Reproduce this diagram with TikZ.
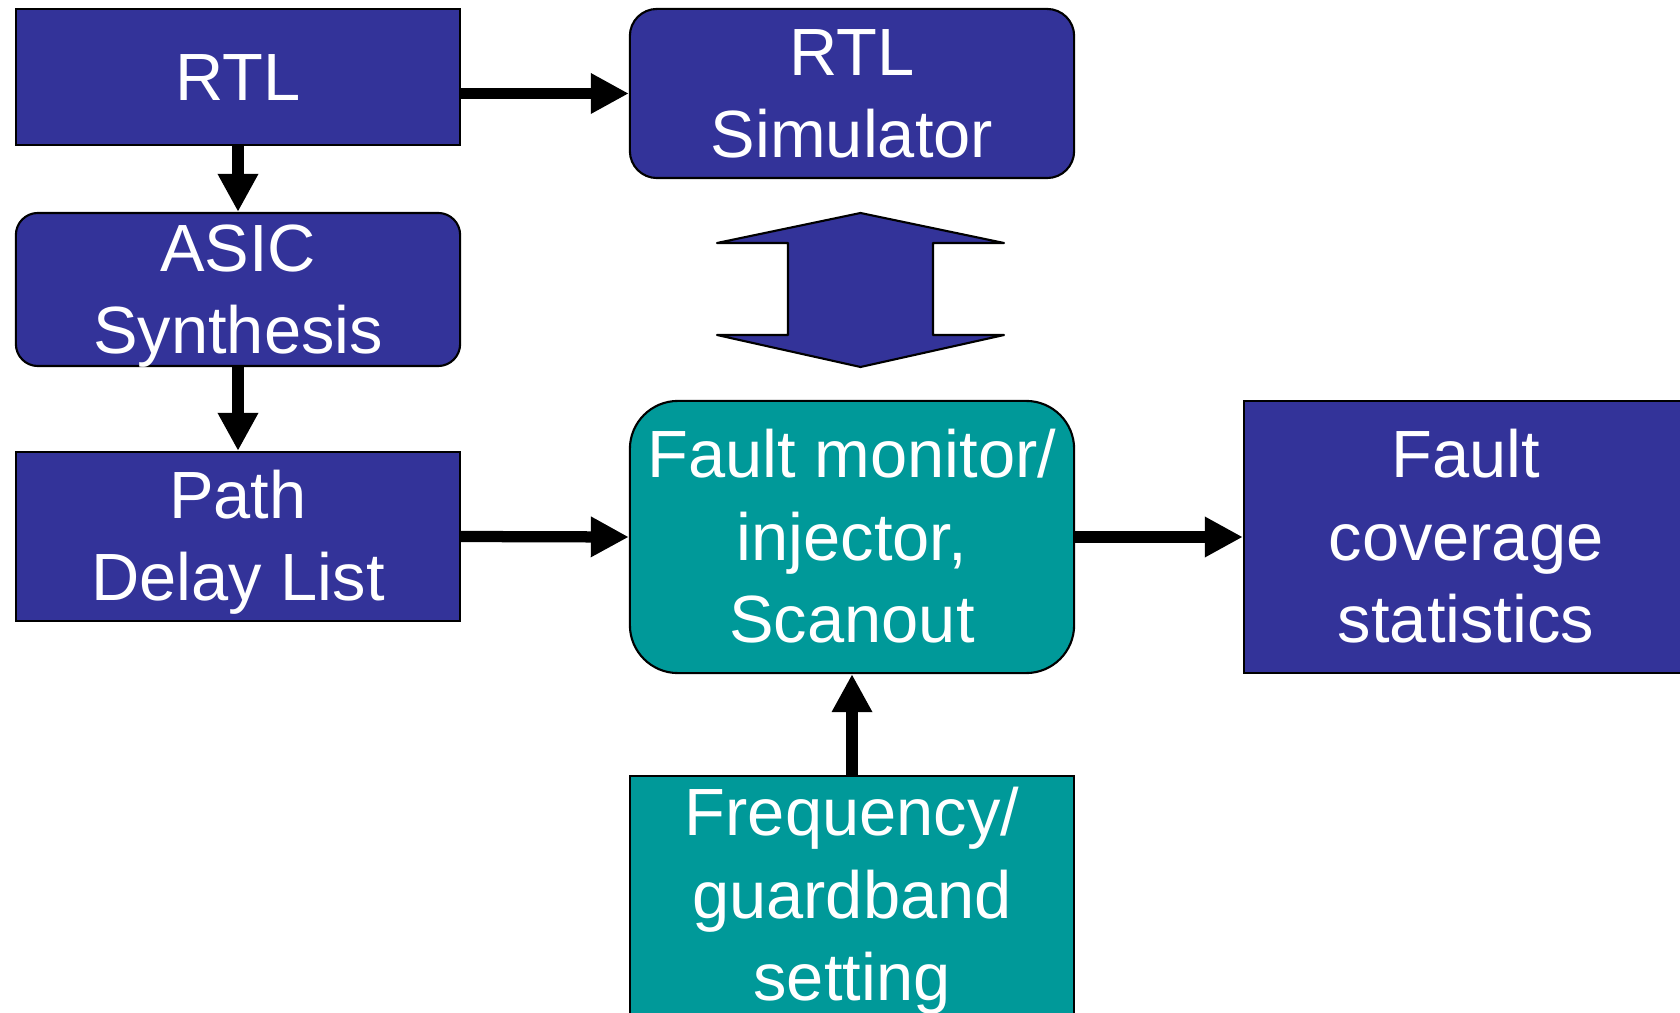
\documentclass[tikz,border=0pt]{standalone}
\usepackage{fontspec}
\setmainfont{Liberation Sans}
\usepackage{xcolor}
\usepackage{tikz}
\usetikzlibrary{arrows.meta, positioning, calc}

\definecolor{boxblue}{HTML}{333399}
\definecolor{boxteal}{HTML}{009999}

% full line box of the font, so the lines sit as in a text frame
\newcommand{\ls}{\rule[-0.212em]{0pt}{1.117em}}

\tikzstyle{block} = [draw=black, line width=0.6pt, text=white, align=center, minimum width=4.44cm, inner xsep=0pt, inner ysep=-3pt, font=\fontsize{19pt}{23.4pt}\selectfont]
\tikzstyle{bluebox} = [block, fill=boxblue]
\tikzstyle{tealbox} = [block, fill=boxteal]
\tikzstyle{arrow} = [line width=3.2pt, -{Triangle[length=0.38cm, width=0.38cm]}]

\begin{document}
\begin{tikzpicture}[x=0.01cm, y=-0.01cm]
    \clip (0,0) rectangle (1680,1013);
    \useasboundingbox (0,0) rectangle (1680,1013);

    % left column
    \node[bluebox, minimum height=1.36cm] (rtl) at (238,77) {\ls RTL\ls};
    \node[bluebox, rounded corners=0.22cm, minimum height=1.53cm] (asic) at (238,289.5) {\ls ASIC\\Synthesis\ls};
    \node[bluebox, minimum height=1.69cm] (path) at (238,536.5) {\ls Path\\Delay List\ls};

    % middle column
    \node[bluebox, rounded corners=0.27cm, minimum height=1.69cm] (sim) at (852,93.5) {\ls RTL\\Simulator\ls};
    \node[tealbox, rounded corners=0.48cm, minimum height=2.72cm] (fault) at (852,537) {\ls Fault monitor/\\injector,\\Scanout\ls};
    \node[tealbox, minimum height=2.38cm] (freq) at (852,895) {\ls Frequency/\\guardband\\setting\ls};

    % right column
    \node[bluebox, minimum height=2.72cm] (cov) at (1466,537) {\ls Fault\\coverage\\statistics\ls};

    % two-way arrow between simulator and monitor
    \draw[line width=0.6pt, line join=round, fill=boxblue] (860.5,213) -- (1004,243) -- (933,243) -- (933,335) -- (1004,335)
        -- (860.5,367) -- (717,335) -- (788,335) -- (788,243) -- (717,243) -- cycle;

    \draw[arrow] (rtl.east |- sim.west) -- (sim.west);
    \draw[arrow] (rtl.south) -- (asic.north);
    \draw[arrow] (asic.south) -- (path.north);
    \draw[arrow] (path.east) -- (fault.west);
    \draw[arrow] (fault.east) -- (cov.west);
    \draw[arrow] (freq.north) -- (fault.south);
\end{tikzpicture}
\end{document}
